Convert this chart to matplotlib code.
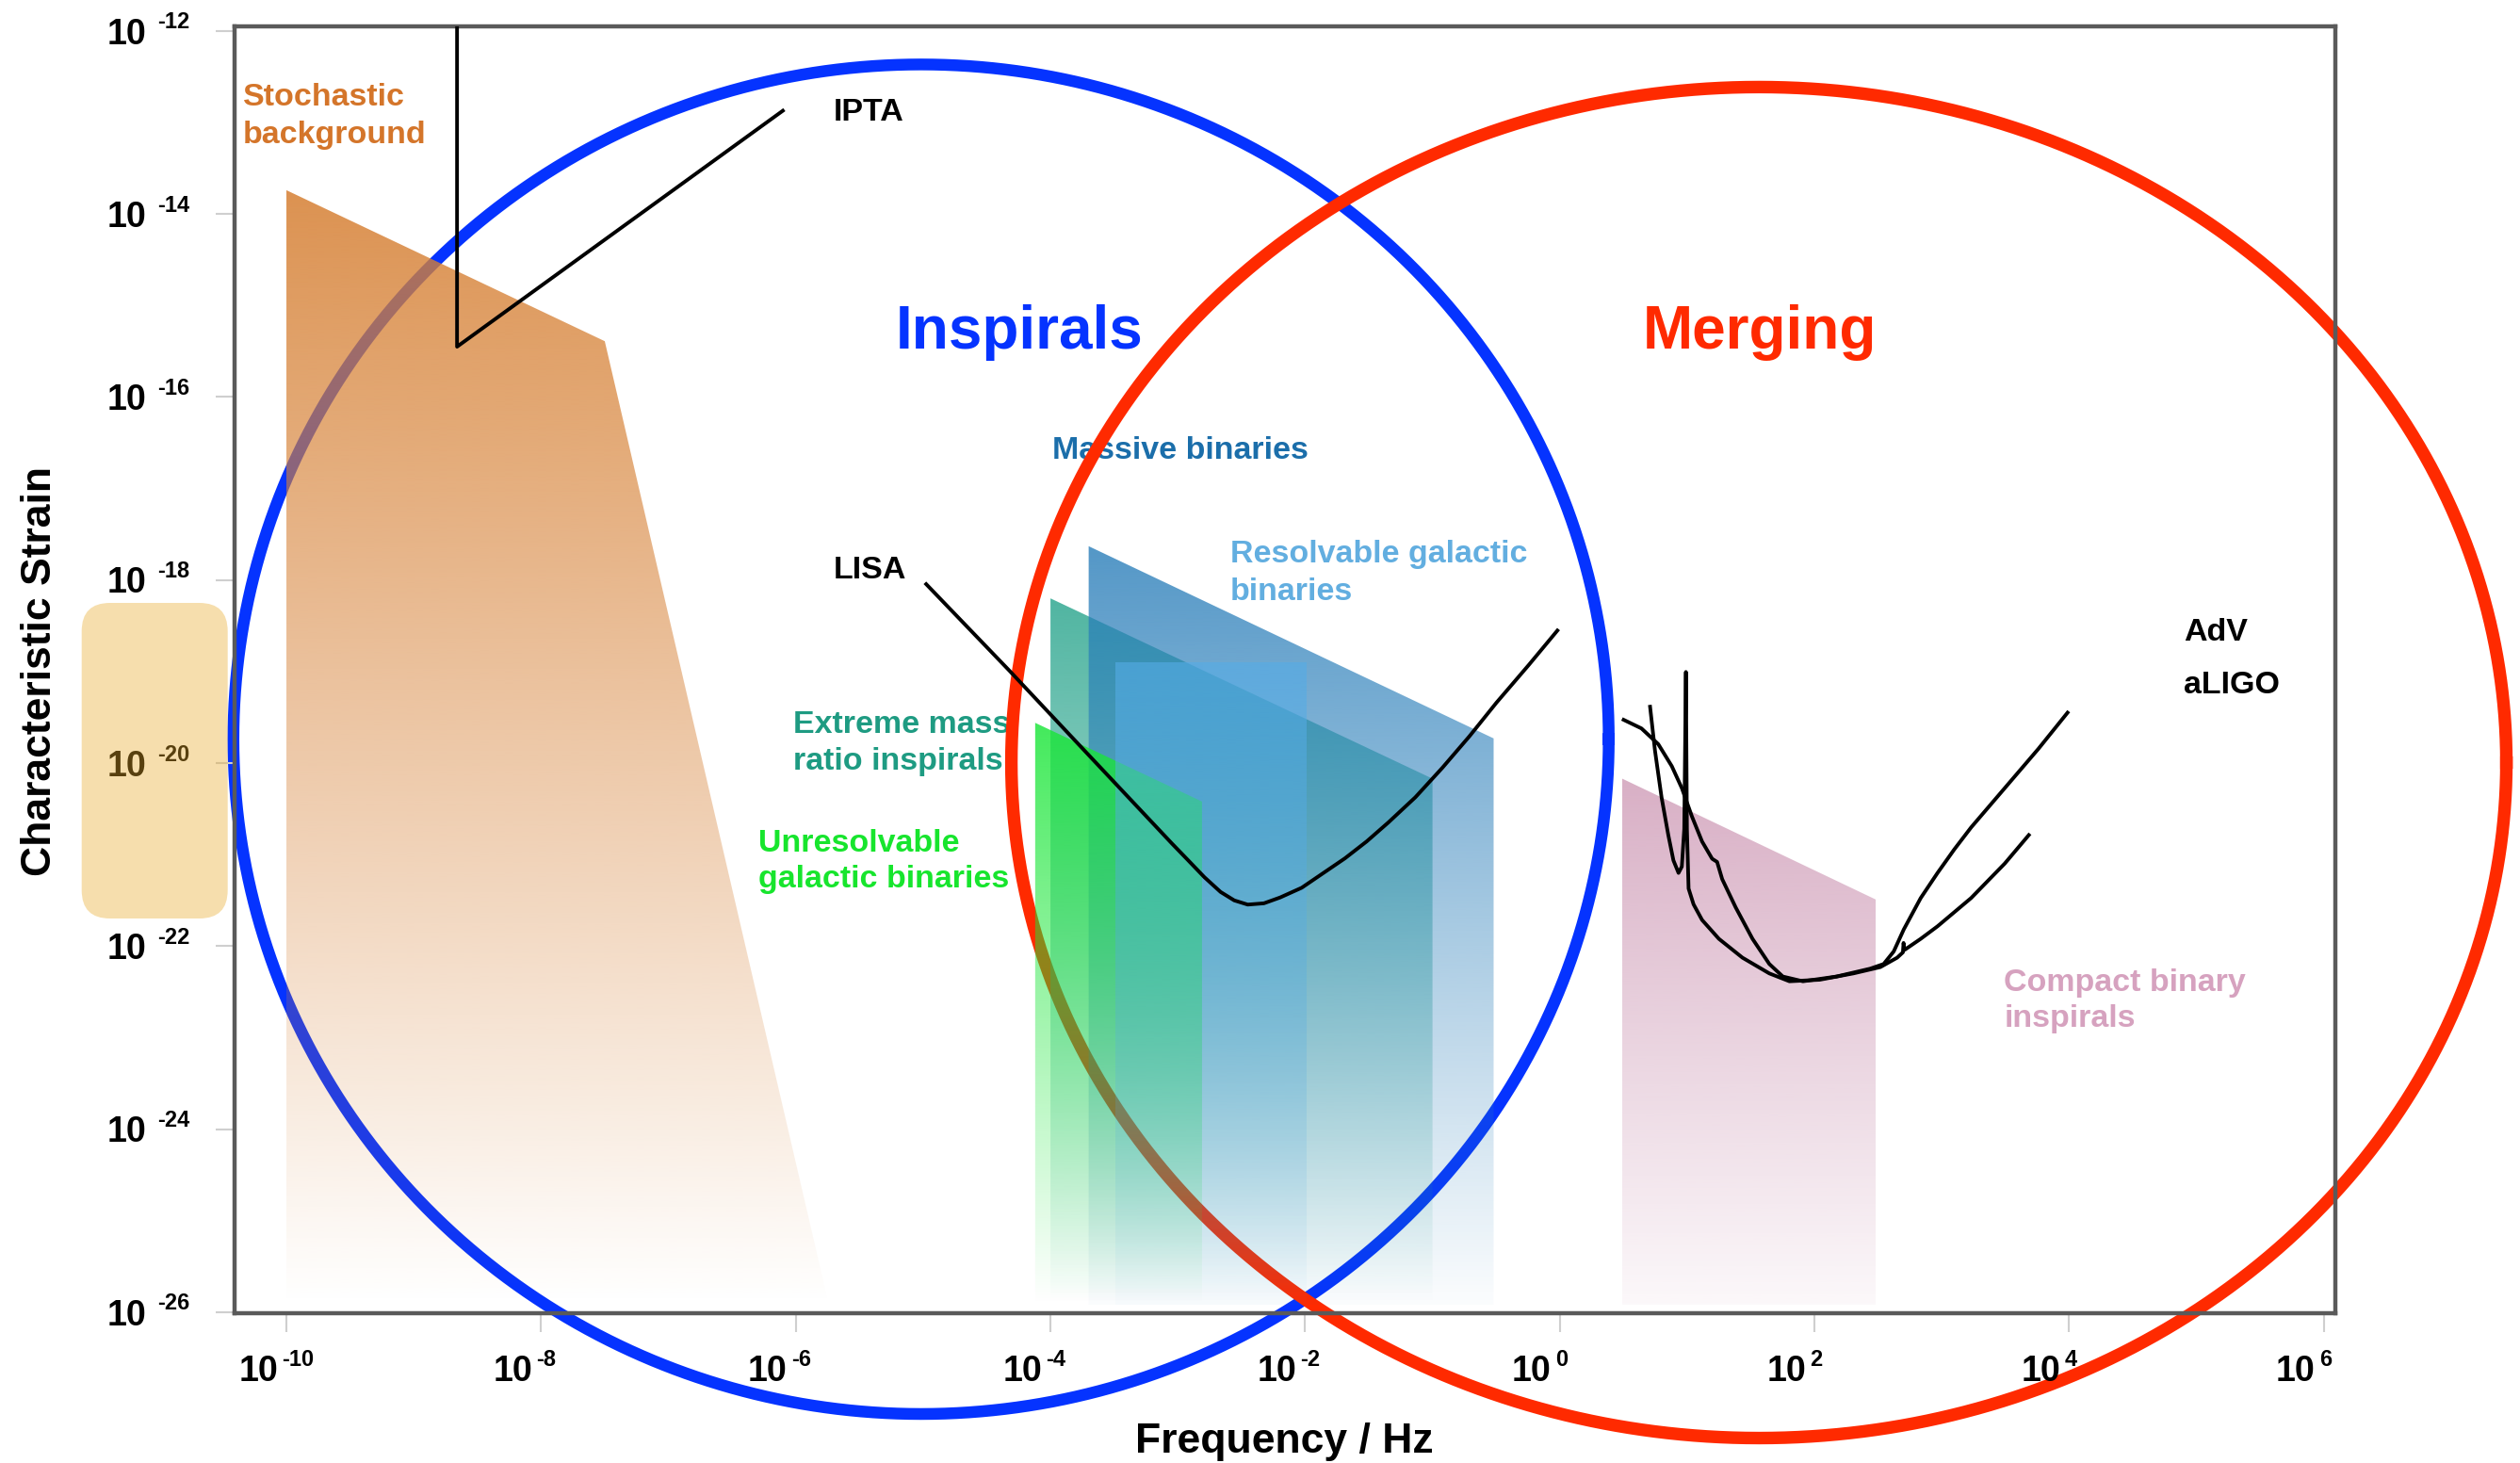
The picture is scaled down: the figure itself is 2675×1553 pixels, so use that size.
import numpy as np
import matplotlib
matplotlib.use("Agg")
import matplotlib.pyplot as plt
from matplotlib import transforms as mtransforms
from matplotlib.patches import Polygon, FancyBboxPatch
from matplotlib.ticker import NullLocator

# ---------------------------------------------------------------------------
# Axis decades
# ---------------------------------------------------------------------------
x_tick_exps = [-10, -8, -6, -4, -2, 0, 2, 4, 6]
y_tick_exps = [-26, -24, -22, -20, -18, -16, -14, -12]

# ---------------------------------------------------------------------------
# Source regions: outlines as log10(frequency / Hz) and log10(strain)
# ---------------------------------------------------------------------------
h_floor = -25.92
stoch_logf = [-10.0, -10.0, -7.50, -5.74]
stoch_logh = [h_floor, -13.74, -15.39, h_floor]

emri_logf = [-4.00, -4.00, -1.00, -1.00]
emri_logh = [h_floor, -18.20, -20.17, h_floor]

massive_logf = [-3.70, -3.70, -0.52, -0.52]
massive_logh = [h_floor, -17.63, -19.73, h_floor]

unres_logf = [-4.12, -4.12, -2.81, -2.81]
unres_logh = [h_floor, -19.56, -20.42, h_floor]

resolv_logf = [-3.49, -3.49, -1.99, -1.99]
resolv_logh = [h_floor, -18.90, -18.90, h_floor]

cbc_logf = [0.49, 0.49, 2.48, 2.48]
cbc_logh = [h_floor, -20.17, -21.49, h_floor]

# ---------------------------------------------------------------------------
# Detector sensitivity curves
# ---------------------------------------------------------------------------
ipta_logf = [-8.66, -8.66, -6.09]
ipta_logh = [-11.5, -15.45, -12.86]

lisa_logf = [-4.986, -4.319, -3.683, -3.046, -2.918, -2.791, -2.664, -2.557,
             -2.451, -2.324, -2.196, -2.027, -1.857, -1.687, -1.517, -1.347,
             -1.135, -0.923, -0.710, -0.498, -0.243, -0.010]
lisa_logh = [-18.030, -18.995, -19.937, -20.879, -21.063, -21.247, -21.408,
             -21.500, -21.546, -21.532, -21.468, -21.362, -21.201, -21.040,
             -20.856, -20.649, -20.374, -20.052, -19.707, -19.340, -18.926,
             -18.536]

adv_logf = [0.488, 0.641, 0.773, 0.879, 0.958, 1.037, 1.117, 1.196, 1.235,
            1.275, 1.381, 1.513, 1.645, 1.751, 1.909, 2.173, 2.437, 2.543,
            2.622, 2.701, 2.834, 2.966, 3.098, 3.230, 3.494, 3.758, 3.996]
adv_logh = [-19.518, -19.621, -19.793, -20.033, -20.273, -20.582, -20.857,
            -21.045, -21.080, -21.268, -21.577, -21.920, -22.195, -22.332,
            -22.384, -22.332, -22.246, -22.195, -22.058, -21.817, -21.474,
            -21.200, -20.942, -20.702, -20.273, -19.844, -19.433]

aligo_logf = [0.707, 0.747, 0.799, 0.852, 0.892, 0.932, 0.958, 0.977, 0.990,
              0.998, 1.011, 1.050, 1.117, 1.249, 1.434, 1.645, 1.803, 2.041,
              2.305, 2.517, 2.649, 2.694, 2.699, 2.707, 2.834, 2.966, 3.230,
              3.494, 3.692]
aligo_logh = [-19.364, -19.862, -20.376, -20.788, -21.063, -21.200, -21.131,
              -20.719, -19.004, -20.719, -21.371, -21.543, -21.714, -21.920,
              -22.126, -22.298, -22.384, -22.367, -22.298, -22.229, -22.126,
              -22.068, -21.965, -22.041, -21.920, -21.783, -21.474, -21.097,
              -20.771]

# ---------------------------------------------------------------------------
# Figure and axes
# ---------------------------------------------------------------------------
W, H, DPI = 2675, 1553, 100
plt.rcParams['font.family'] = ['Liberation Sans', 'DejaVu Sans']
plt.rcParams['font.weight'] = 'bold'

fig = plt.figure(figsize=(W / DPI, H / DPI), dpi=DPI)
fig.patch.set_facecolor('white')
ax_left, ax_right, ax_top, ax_bottom = 248.6, 2479.0, 28.0, 1394.4
ax = fig.add_axes([ax_left / W, 1 - ax_bottom / H,
                   (ax_right - ax_left) / W, (ax_bottom - ax_top) / H])
ax.set_xscale('log')
ax.set_yscale('log')
XLIM = (10 ** -10.41, 10 ** 6.09)
YLIM = (10 ** -26.015, 10 ** -11.95)
ax.set_xlim(*XLIM)
ax.set_ylim(*YLIM)

for sp in ax.spines.values():
    sp.set_color('#5A5A5A')
    sp.set_linewidth(3.2)

ax.set_xticks([10.0 ** e for e in x_tick_exps])
ax.set_yticks([10.0 ** e for e in y_tick_exps])
ax.xaxis.set_minor_locator(NullLocator())
ax.yaxis.set_minor_locator(NullLocator())
ax.tick_params(which='major', direction='out', length=14.5, width=1.5,
               color='#CFCFCF', labelbottom=False, labelleft=False)


def P(logs):
    return 10.0 ** np.asarray(logs, dtype=float)


# ---------------------------------------------------------------------------
# Tick labels: "10" with a small raised exponent
# ---------------------------------------------------------------------------
ytr = ax.get_yaxis_transform()
xtr = ax.get_xaxis_transform()
for e in y_tick_exps:
    ax.text(0, 10.0 ** e, '10',
            transform=mtransforms.offset_copy(ytr, fig=fig, x=-93.6, y=-13.7, units='dots'),
            ha='right', va='baseline', fontsize=27, fontweight='bold',
            clip_on=False, zorder=5)
    ax.text(0, 10.0 ** e, str(e),
            transform=mtransforms.offset_copy(ytr, fig=fig, x=-81.5, y=2.5, units='dots'),
            ha='left', va='baseline', fontsize=17, fontweight='bold',
            clip_on=False, zorder=5)
for e in x_tick_exps:
    ax.text(10.0 ** e, 0, '10',
            transform=mtransforms.offset_copy(xtr, fig=fig, x=-9.0, y=-71.6, units='dots'),
            ha='right', va='baseline', fontsize=27, fontweight='bold',
            clip_on=False, zorder=5)
    ax.text(10.0 ** e, 0, str(e),
            transform=mtransforms.offset_copy(xtr, fig=fig, x=-5.0, y=-56.0, units='dots'),
            ha='left', va='baseline', fontsize=17, fontweight='bold',
            clip_on=False, zorder=5)

ax.set_xlabel('Frequency / Hz', fontsize=32, fontweight='bold')
ax.xaxis.label.set_va('baseline')
ax.xaxis.set_label_coords(0.5, -(1541.7 - ax_bottom) / (ax_bottom - ax_top))
ax.set_ylabel('Characteristic Strain', fontsize=32, fontweight='bold')
ax.yaxis.label.set_va('center')
ax.yaxis.label.set_ha('center')
ax.yaxis.set_label_coords((43.0 - ax_left) / (ax_right - ax_left),
                          (ax_bottom - 712.0) / (ax_bottom - ax_top))

# ---------------------------------------------------------------------------
# Grouping ellipses (centre and radii in decades)
# ---------------------------------------------------------------------------
inspiral_centre, inspiral_radii = (-5.016, -19.739), (5.40, 7.373)
merger_centre, merger_radii = (1.563, -19.994), (5.870, 7.381)
theta = np.linspace(0, 2 * np.pi, 1441)
for (cx, cy), (a, b), col, lw in [(inspiral_centre, inspiral_radii, '#0533FF', 9.0),
                                  (merger_centre, merger_radii, '#FF2A00', 9.6)]:
    ax.plot(10 ** (cx + a * np.cos(theta)), 10 ** (cy + b * np.sin(theta)),
            color=col, lw=lw, clip_on=False, zorder=0.5, solid_joinstyle='round')

# ---------------------------------------------------------------------------
# Source regions with a vertical fade
# ---------------------------------------------------------------------------
to_axes = ax.transData + ax.transAxes.inverted()


def faded_region(logf, logh, rgb, a_top, a_bot, z):
    verts = np.column_stack([P(logf), P(logh)])
    poly = Polygon(verts, closed=True, facecolor='none', edgecolor='none', zorder=z)
    ax.add_patch(poly)
    _, y0 = to_axes.transform((1.0, 10.0 ** min(logh)))
    _, y1 = to_axes.transform((1.0, 10.0 ** max(logh)))
    n = 400
    img = np.zeros((n, 1, 4))
    img[:, 0, :3] = np.array(rgb) / 255.0
    img[:, 0, 3] = np.linspace(a_bot, a_top, n)
    im = ax.imshow(img, extent=(0, 1, y0, y1), origin='lower', aspect='auto',
                   transform=ax.transAxes, interpolation='bilinear', zorder=z)
    im.set_clip_path(poly)


faded_region(stoch_logf, stoch_logh, (214, 128, 52), 0.86, 0.0, 1.0)
faded_region(emri_logf, emri_logh, (30, 160, 135), 0.78, 0.0, 1.1)
faded_region(massive_logf, massive_logh, (40, 125, 185), 0.80, 0.02, 1.2)
faded_region(unres_logf, unres_logh, (25, 230, 55), 0.82, 0.0, 1.3)
faded_region(resolv_logf, resolv_logh, (85, 172, 230), 0.62, 0.02, 1.4)
faded_region(cbc_logf, cbc_logh, (185, 110, 150), 0.55, 0.05, 1.5)

# ---------------------------------------------------------------------------
# Sensitivity curves
# ---------------------------------------------------------------------------
curve_style = dict(color='black', lw=2.8, zorder=3, solid_joinstyle='round',
                   solid_capstyle='butt')
ax.plot(P(ipta_logf), P(ipta_logh), **curve_style)
ax.plot(P(lisa_logf), P(lisa_logh), **curve_style)
ax.plot(P(adv_logf), P(adv_logh), **curve_style)
ax.plot(P(aligo_logf), P(aligo_logh), **curve_style)

# ---------------------------------------------------------------------------
# Labels (left edge / baseline in log10 units)
# ---------------------------------------------------------------------------
labels = [
    ('Stochastic', -10.342, -12.810, '#D4752A'),
    ('background', -10.342, -13.222, '#D4752A'),
    ('IPTA', -5.704, -12.978, 'black'),
    ('Massive binaries', -3.988, -16.674, '#1B6EAA'),
    ('Resolvable galactic', -2.591, -17.806, '#62AEE0'),
    ('binaries', -2.591, -18.214, '#62AEE0'),
    ('LISA', -5.704, -17.981, 'black'),
    ('Extreme mass', -6.023, -19.675, '#1E9B82'),
    ('ratio inspirals', -6.023, -20.071, '#1E9B82'),
    ('Unresolvable', -6.296, -20.971, '#17E52D'),
    ('galactic binaries', -6.296, -21.358, '#17E52D'),
    ('AdV', 4.902, -18.660, 'black'),
    ('aLIGO', 4.902, -19.237, 'black'),
    ('Compact binary', 3.489, -22.486, '#D6A2BF'),
    ('inspirals', 3.489, -22.881, '#D6A2BF'),
]
for txt, lf, lh, col in labels:
    ax.text(10 ** lf, 10 ** lh, txt, color=col, fontsize=24.5, fontweight='bold',
            ha='left', va='baseline', zorder=0.45, clip_on=False)

ax.text(10 ** -4.247, 10 ** -15.469, 'Inspirals', color='#0533FF', fontsize=46,
        fontweight='bold', ha='center', va='baseline', zorder=4, clip_on=False)
ax.text(10 ** 1.566, 10 ** -15.469, 'Merging', color='#FF2A00', fontsize=46,
        fontweight='bold', ha='center', va='baseline', zorder=4, clip_on=False)

# Highlight over the 10^-20 tick label
box = FancyBboxPatch((86.7 / DPI, (H - 975.0) / DPI), 155.0 / DPI, 335.0 / DPI,
                     boxstyle='round,pad=0,rounding_size=0.30',
                     transform=fig.dpi_scale_trans, facecolor=(232 / 255, 170 / 255, 40 / 255),
                     edgecolor='none', alpha=0.38, zorder=6, clip_on=False)
ax.add_artist(box)

ax.set_xlim(*XLIM)
ax.set_ylim(*YLIM)
fig.savefig('out.png', dpi=DPI, facecolor='white')
